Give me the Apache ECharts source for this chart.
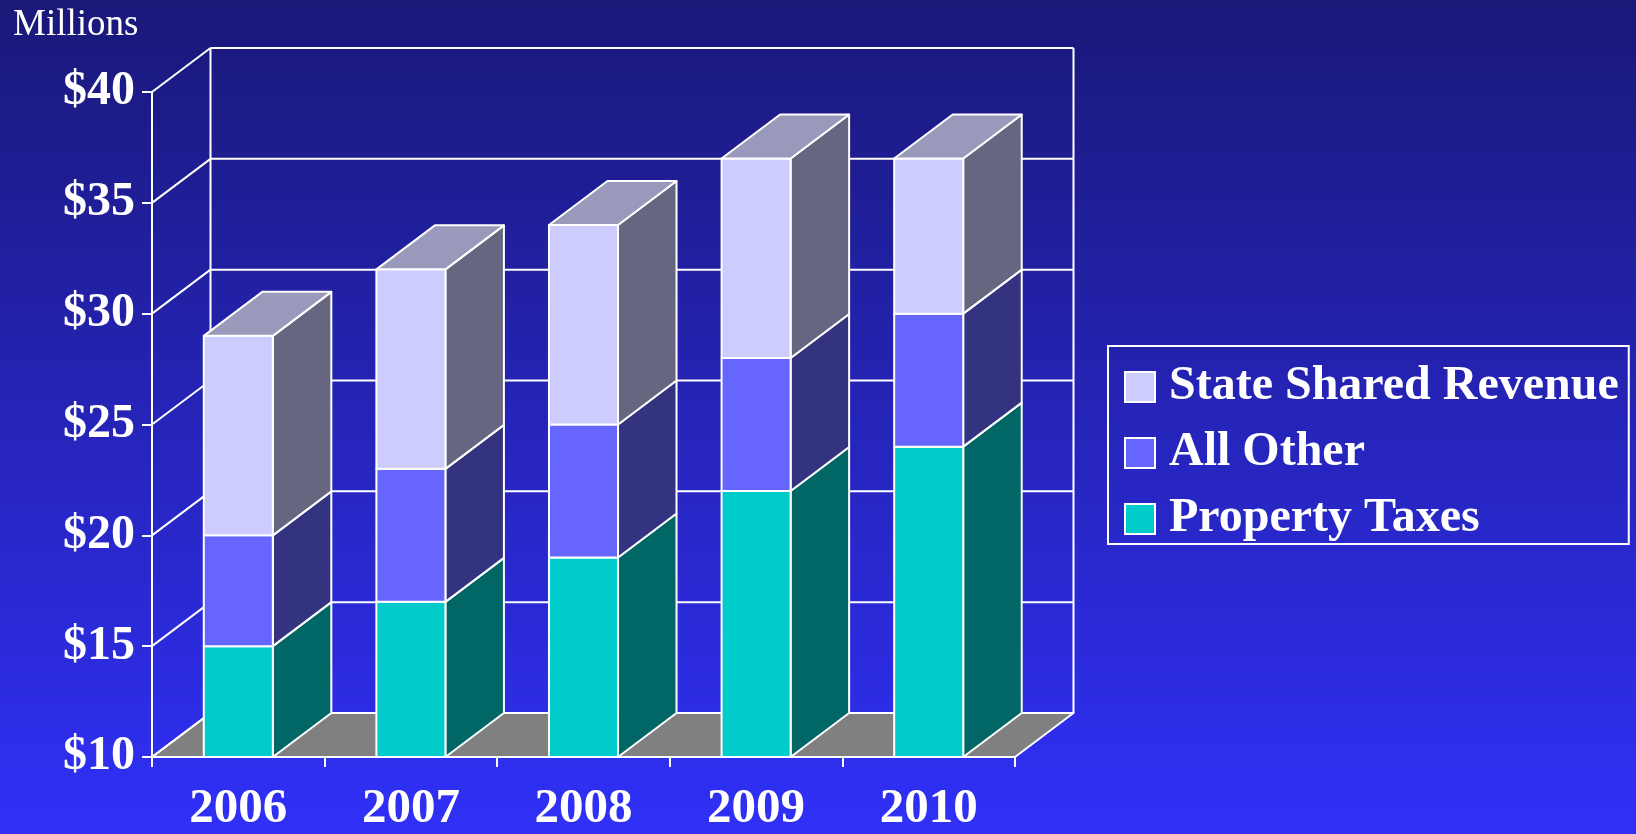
<!DOCTYPE html>
<html>
<head>
<meta charset="utf-8">
<script src="https://cdn.jsdelivr.net/npm/echarts@6/dist/echarts.min.js"></script>
<style>
  html, body { margin: 0; padding: 0; background: #2424b0; }
  #chart { width: 1636px; height: 834px; }
</style>
</head>
<body>
<div id="chart"></div>
<script>
// Revenue sources by year, in millions of dollars
const years = ['2006', '2007', '2008', '2009', '2010'];
const propertyTaxes = [15, 17, 19, 22, 24];
const allOther = [5, 6, 6, 6, 6];
const stateSharedRevenue = [9, 9, 9, 9, 7];
const yTicks = [10, 15, 20, 25, 30, 35, 40];
const Y_MIN = 10, Y_MAX = 40, Y_STEP = 5;

// Pseudo-3D depth of the box and bars, in pixels
const DX = 58.5, DY = 44;
const BAR_RATIO = 0.4;
const FONT = '"Liberation Serif", "Times New Roman", serif';
const EDGE = { stroke: '#ffffff', lineWidth: 2, lineJoin: 'round' };

// Stack the three series into [category, base, top] triples
function stacked(layers) {
  const running = years.map(() => 0);
  return layers.map(values => values.map((v, i) => {
    const base = running[i];
    running[i] += v;
    return [i, base, running[i]];
  }));
}
const [ptData, aoData, ssrData] = stacked([propertyTaxes, allOther, stateSharedRevenue]);

function segmentRenderer(colors, withTop) {
  return function (params, api) {
    const i = api.value(0);
    const lo = Math.max(api.value(1), Y_MIN);
    const hi = api.value(2);
    const w = api.size([1, 0])[0] * BAR_RATIO;
    const pLo = api.coord([i, lo]);
    const pHi = api.coord([i, hi]);
    const x0 = pLo[0] - w / 2, x1 = pLo[0] + w / 2;
    const yb = pLo[1], yt = pHi[1];
    const children = [
      { type: 'polygon',
        shape: { points: [[x1, yb], [x1 + DX, yb - DY], [x1 + DX, yt - DY], [x1, yt]] },
        style: Object.assign({ fill: colors.side }, EDGE) },
      { type: 'rect',
        shape: { x: x0, y: yt, width: w, height: yb - yt },
        style: Object.assign({ fill: colors.front }, EDGE) }
    ];
    if (withTop) {
      children.push({ type: 'polygon',
        shape: { points: [[x0, yt], [x1, yt], [x1 + DX, yt - DY], [x0 + DX, yt - DY]] },
        style: Object.assign({ fill: colors.top }, EDGE) });
    }
    return { type: 'group', children };
  };
}

// Back wall grid lines, left wall diagonals, floor and back verticals
function frameRenderer(params, api) {
  const v = api.value(1);
  const band = api.size([1, 0])[0];
  const xl = api.coord([0, v])[0] - band / 2;
  const xr = api.coord([years.length - 1, v])[0] + band / 2;
  const y = api.coord([0, v])[1];
  const children = [];
  if (v === Y_MIN) {
    children.push({ type: 'polygon',
      shape: { points: [[xl, y], [xr, y], [xr + DX, y - DY], [xl + DX, y - DY]] },
      style: Object.assign({ fill: '#808080' }, EDGE) });
  }
  if (v === Y_MAX) {
    const yb = api.coord([0, Y_MIN])[1];
    children.push({ type: 'line', shape: { x1: xl + DX, y1: y - DY, x2: xl + DX, y2: yb - DY }, style: EDGE });
    children.push({ type: 'line', shape: { x1: xr + DX, y1: y - DY, x2: xr + DX, y2: yb - DY }, style: EDGE });
  }
  children.push({ type: 'line', shape: { x1: xl, y1: y, x2: xl + DX, y2: y - DY }, style: EDGE });
  children.push({ type: 'line', shape: { x1: xl + DX, y1: y - DY, x2: xr + DX, y2: y - DY }, style: EDGE });
  return { type: 'group', children };
}

const chart = echarts.init(document.getElementById('chart'), null, { renderer: 'canvas' });
chart.setOption({
  animation: false,
  backgroundColor: {
    type: 'linear', x: 0, y: 0, x2: 0, y2: 1,
    colorStops: [{ offset: 0, color: '#1a1878' }, { offset: 1, color: '#3030f8' }]
  },
  title: {
    text: 'Millions', left: 13, top: 7, padding: 0,
    textStyle: { color: '#ffffff', fontFamily: FONT, fontWeight: 'normal', fontSize: 37 }
  },
  legend: {
    data: ['State Shared Revenue', 'All Other', 'Property Taxes'],
    orient: 'vertical', left: 1108, top: 346,
    padding: [17, 10, 1, 16], itemGap: 18, itemWidth: 30, itemHeight: 30,
    icon: 'rect', borderColor: '#ffffff', borderWidth: 2,
    itemStyle: { borderColor: '#ffffff', borderWidth: 2 },
    selectedMode: false,
    textStyle: { color: '#ffffff', fontFamily: FONT, fontWeight: 'bold', fontSize: 48, lineHeight: 48, padding: [0, 0, 0, 9] }
  },
  grid: { left: 152, right: 621, top: 92, bottom: 76, containLabel: false },
  xAxis: {
    type: 'category', data: years, boundaryGap: true,
    axisLine: { lineStyle: { color: '#ffffff', width: 2 } },
    axisTick: { show: true, length: 10, lineStyle: { color: '#ffffff', width: 2 } },
    axisLabel: { color: '#ffffff', fontFamily: FONT, fontWeight: 'bold', fontSize: 49, margin: 28 },
    splitLine: { show: false }
  },
  yAxis: {
    type: 'value', min: Y_MIN, max: Y_MAX, interval: Y_STEP,
    axisLine: { show: true, lineStyle: { color: '#ffffff', width: 2 } },
    axisTick: { show: true, length: 10, lineStyle: { color: '#ffffff', width: 2 } },
    axisLabel: { color: '#ffffff', fontFamily: FONT, fontWeight: 'bold', fontSize: 48, margin: 17,
      formatter: v => '$' + v },
    splitLine: { show: false }
  },
  series: [
    { name: 'frame', type: 'custom', silent: true, encode: { x: 0, y: 1 },
      data: yTicks.map(v => [0, v]), renderItem: frameRenderer },
    { name: 'Property Taxes', type: 'custom', silent: true, encode: { x: 0, y: [1, 2] },
      itemStyle: { color: '#00cccc' }, data: ptData,
      renderItem: segmentRenderer({ front: '#00cccc', side: '#006666' }, false) },
    { name: 'All Other', type: 'custom', silent: true, encode: { x: 0, y: [1, 2] },
      itemStyle: { color: '#6666ff' }, data: aoData,
      renderItem: segmentRenderer({ front: '#6666ff', side: '#333380' }, false) },
    { name: 'State Shared Revenue', type: 'custom', silent: true, encode: { x: 0, y: [1, 2] },
      itemStyle: { color: '#ccccff' }, data: ssrData,
      renderItem: segmentRenderer({ front: '#ccccff', side: '#666680', top: '#9999bb' }, true) }
  ]
});
</script>
</body>
</html>
